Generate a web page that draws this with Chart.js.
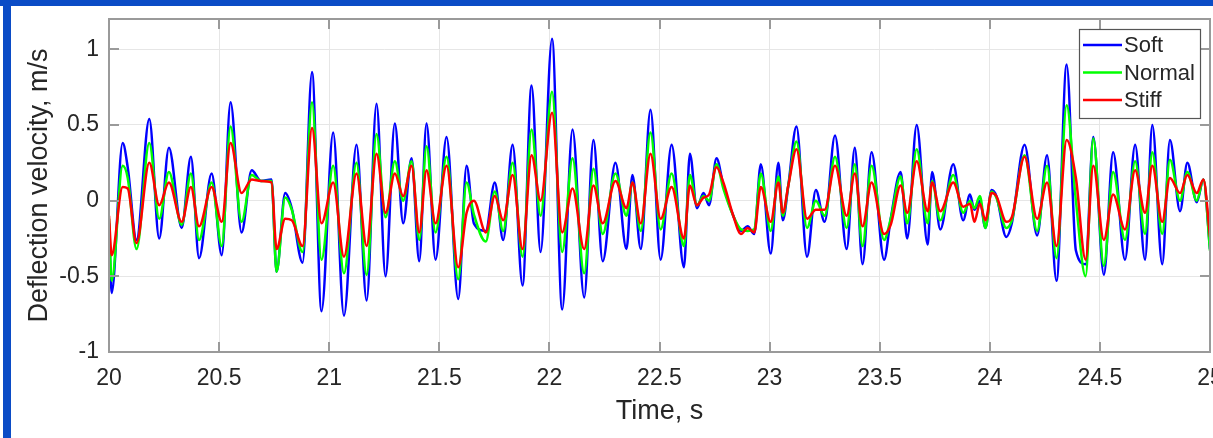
<!DOCTYPE html>
<html>
<head>
<meta charset="utf-8">
<script src="https://cdn.jsdelivr.net/npm/chart.js@4.4.1/dist/chart.umd.min.js"></script>
<style>
  html, body { margin: 0; padding: 0; background: #fff; overflow: hidden; }
  #wrap { position: relative; width: 1213px; height: 438px; }
  #chart { position: absolute; left: 0; top: 0; }
  .band { position: absolute; background: #0b4cc6; }
  #bandTop { left: 0; top: 0; width: 1213px; height: 6px; }
  #bandLeft { left: 3px; top: 0; width: 8px; height: 438px; }
</style>
</head>
<body>
<div id="wrap">
  <canvas id="chart" width="1213" height="438"></canvas>
  <div class="band" id="bandTop"></div>
  <div class="band" id="bandLeft"></div>
</div>
<script>
// ── Data (local peaks / troughs) ──────────────────────────────────
const times = [
  20.000, 20.012, 20.062, 20.085, 20.125, 20.183, 20.228, 20.272, 20.330, 20.372,
  20.409, 20.466, 20.512, 20.552, 20.602, 20.648, 20.690, 20.738, 20.761, 20.800,
  20.830, 20.879, 20.922, 20.965, 21.018, 21.067, 21.124, 21.170, 21.215, 21.256,
  21.298, 21.336, 21.374, 21.409, 21.442, 21.483, 21.533, 21.586, 21.624, 21.657,
  21.711, 21.752, 21.790, 21.833, 21.878, 21.919, 21.960, 22.012, 22.058, 22.105,
  22.158, 22.200, 22.242, 22.300, 22.350, 22.377, 22.415, 22.459, 22.505, 22.555,
  22.611, 22.638, 22.670, 22.700, 22.725, 22.759, 22.790, 22.835, 22.870, 22.900,
  22.930, 22.960, 23.005, 23.040, 23.060, 23.085, 23.122, 23.170, 23.210, 23.250,
  23.297, 23.350, 23.387, 23.422, 23.463, 23.520, 23.550, 23.595, 23.625, 23.668,
  23.718, 23.738, 23.775, 23.834, 23.879, 23.910, 23.930, 23.955, 23.980, 24.008,
  24.030, 24.075, 24.100, 24.158, 24.215, 24.260, 24.303, 24.349, 24.391, 24.435,
  24.470, 24.518, 24.560, 24.614, 24.660, 24.705, 24.738, 24.783, 24.818, 24.864,
  24.897, 24.940, 24.970, 25.000
];

const soft = [
  -0.15, -0.61,  0.38,  0.22, -0.26,  0.54, -0.25,  0.35, -0.18,  0.29,
  -0.38,  0.18, -0.36,  0.65, -0.21,  0.20,  0.13,  0.14, -0.47,  0.05,
  -0.05, -0.41,  0.85, -0.73,  0.45, -0.76,  0.37, -0.66,  0.64, -0.50,
   0.51, -0.15,  0.28, -0.40,  0.51, -0.39,  0.42, -0.65,  0.23, -0.15,
  -0.20,  0.12, -0.26,  0.37, -0.56,  0.76, -0.34,  1.07, -0.72,  0.47,
  -0.64,  0.40, -0.40,  0.25, -0.32,  0.17, -0.32,  0.60, -0.39,  0.37,
  -0.44,  0.31, -0.05,  0.05, -0.03,  0.28,  0.10, -0.10, -0.20, -0.17,
  -0.22,  0.24, -0.35,  0.25, -0.13,  0.10,  0.49, -0.37,  0.07, -0.14,
   0.43, -0.32,  0.35, -0.42,  0.32, -0.39, -0.12,  0.19, -0.25,  0.50,
  -0.29,  0.19, -0.19,  0.24, -0.13,  0.04, -0.06,  0.00, -0.18,  0.07,
   0.03, -0.24, -0.15,  0.37, -0.23,  0.30, -0.53,  0.90, -0.33, -0.42,
   0.42, -0.49,  0.32, -0.39,  0.37, -0.39,  0.50, -0.42,  0.40, -0.07,
   0.25, -0.01,  0.14, -0.32
];

const normal = [
  -0.12, -0.53,  0.23,  0.15, -0.32,  0.38, -0.12,  0.19, -0.16,  0.18,
  -0.26,  0.12, -0.30,  0.49, -0.14,  0.17,  0.13,  0.13, -0.47,  0.02,
  -0.06, -0.34,  0.65, -0.39,  0.23, -0.48,  0.25, -0.49,  0.44, -0.11,
   0.26,  0.00,  0.26, -0.26,  0.36, -0.21,  0.29, -0.52,  0.12, -0.09,
  -0.27,  0.06, -0.20,  0.25, -0.37,  0.47, -0.10,  0.72, -0.34,  0.28,
  -0.48,  0.21, -0.22,  0.18, -0.10,  0.12, -0.20,  0.45, -0.19,  0.18,
  -0.30,  0.17, -0.03,  0.03,  0.00,  0.24,  0.08, -0.10, -0.19, -0.20,
  -0.19,  0.18, -0.20,  0.16, -0.10,  0.10,  0.39, -0.18,  0.00, -0.10,
   0.29, -0.18,  0.24, -0.30,  0.23, -0.26, -0.12,  0.16, -0.15,  0.34,
  -0.15,  0.13, -0.13,  0.17, -0.08,  0.00, -0.05,  0.03, -0.18,  0.06,
   0.02, -0.18, -0.13,  0.30, -0.20,  0.23, -0.38,  0.63,  0.00, -0.50,
   0.41, -0.43,  0.19, -0.26,  0.26, -0.22,  0.32, -0.22,  0.27,  0.00,
   0.19,  0.00,  0.14, -0.33
];

const stiff = [
  -0.10, -0.36,  0.09,  0.08, -0.28,  0.25, -0.03,  0.12, -0.14,  0.09,
  -0.17,  0.09, -0.14,  0.38,  0.05,  0.14,  0.13,  0.12, -0.32, -0.12,
  -0.13, -0.30,  0.48, -0.15,  0.12, -0.37,  0.18, -0.30,  0.31, -0.08,
   0.18,  0.03,  0.23, -0.21,  0.20, -0.15,  0.23, -0.44, -0.08,  0.00,
  -0.21,  0.03, -0.13,  0.17, -0.32,  0.30,  0.00,  0.58, -0.21,  0.08,
  -0.32,  0.10, -0.15,  0.13, -0.05,  0.12, -0.15,  0.31, -0.12,  0.09,
  -0.25,  0.10, -0.03,  0.02,  0.04,  0.22,  0.12, -0.10, -0.22, -0.18,
  -0.21,  0.09, -0.14,  0.12, -0.08,  0.10,  0.34, -0.12, -0.06, -0.06,
   0.23, -0.10,  0.18, -0.17,  0.12, -0.22, -0.16,  0.10, -0.08,  0.26,
  -0.07,  0.12, -0.07,  0.12, -0.04, -0.02, -0.14, -0.02, -0.13,  0.05,
   0.03, -0.14, -0.11,  0.29, -0.12,  0.12, -0.30,  0.40,  0.15, -0.39,
   0.23, -0.26,  0.04, -0.19,  0.20, -0.08,  0.23, -0.14,  0.15,  0.05,
   0.17,  0.05,  0.14, -0.24
];

const xTickValues = [20, 20.5, 21, 21.5, 22, 22.5, 23, 23.5, 24, 24.5, 25];
const yTickValues = [-1, -0.5, 0, 0.5, 1];

const FONT = '"Liberation Sans", Arial, Helvetica, sans-serif';
const AXIS_GRAY = '#9a9a9a';
const TEXT = '#262626';

function points(values) {
  return times.map((t, i) => ({ x: t, y: values[i] }));
}

// ── Box, inward ticks and legend, MATLAB style ────────────────────
const matlabFrame = {
  id: 'matlabFrame',
  afterDatasetsDraw(chart) {
    const { ctx, chartArea: a, scales: { x, y } } = chart;
    ctx.save();
    ctx.strokeStyle = AXIS_GRAY;
    ctx.lineWidth = 2;
    ctx.beginPath();
    xTickValues.forEach(v => {
      const px = Math.round(x.getPixelForValue(v));
      ctx.moveTo(px, a.bottom); ctx.lineTo(px, a.bottom - 10);
      ctx.moveTo(px, a.top);    ctx.lineTo(px, a.top + 10);
    });
    yTickValues.forEach(v => {
      const py = Math.round(y.getPixelForValue(v));
      ctx.moveTo(a.left, py);  ctx.lineTo(a.left + 10, py);
      ctx.moveTo(a.right, py); ctx.lineTo(a.right - 10, py);
    });
    ctx.stroke();
    ctx.strokeRect(a.left, a.top, a.right - a.left, a.bottom - a.top);

    // legend box
    const w = 121, h = 89;
    const lx = a.right - 10 - w, ly = a.top + 10;
    ctx.fillStyle = '#fff';
    ctx.fillRect(lx, ly, w, h);
    ctx.strokeStyle = '#555';
    ctx.lineWidth = 1.2;
    ctx.strokeRect(lx + 0.5, ly + 0.5, w, h);
    ctx.font = '22px ' + FONT;
    ctx.textBaseline = 'middle';
    ctx.textAlign = 'left';
    chart.data.datasets.forEach((ds, i) => {
      const cy = ly + 16 + i * 27.5;
      ctx.strokeStyle = ds.borderColor;
      ctx.lineWidth = 2.5;
      ctx.beginPath();
      ctx.moveTo(lx + 4, cy); ctx.lineTo(lx + 43, cy);
      ctx.stroke();
      ctx.fillStyle = TEXT;
      ctx.fillText(ds.label, lx + 45, cy + 1);
    });
    ctx.restore();
  }
};

new Chart(document.getElementById('chart').getContext('2d'), {
  type: 'line',
  data: {
    datasets: [
      { label: 'Soft',   data: points(soft),   borderColor: '#0000ff', order: 3 },
      { label: 'Normal', data: points(normal), borderColor: '#00ff00', order: 2 },
      { label: 'Stiff',  data: points(stiff),  borderColor: '#ff0000', order: 1 }
    ]
  },
  options: {
    responsive: false,
    devicePixelRatio: 1,
    animation: false,
    layout: { autoPadding: false, padding: { left: 12, top: 19, right: 3, bottom: 0 } },
    elements: {
      line: { borderWidth: 2.5, cubicInterpolationMode: 'monotone', fill: false },
      point: { radius: 0 }
    },
    plugins: { legend: { display: false }, tooltip: { enabled: false } },
    scales: {
      x: {
        type: 'linear', min: 20, max: 25,
        afterBuildTicks: s => { s.ticks = xTickValues.map(v => ({ value: v })); },
        afterFit: s => { s.height = 86; s.paddingLeft = 0; s.paddingRight = 0; },
        grid: { color: '#e6e6e6', lineWidth: 1, drawTicks: false },
        border: { display: false },
        ticks: {
          autoSkip: false, maxRotation: 0, padding: 13, color: TEXT,
          font: { family: FONT, size: 23 },
          callback: v => String(v)
        },
        title: {
          display: true, text: 'Time, s', color: TEXT,
          font: { family: FONT, size: 27 }, padding: { top: 0, bottom: 10 }
        }
      },
      y: {
        type: 'linear', min: -1, max: 1.2,
        afterBuildTicks: s => { s.ticks = yTickValues.map(v => ({ value: v })); },
        afterFit: s => { s.width = 97; s.paddingTop = 0; s.paddingBottom = 0; },
        grid: { color: '#e6e6e6', lineWidth: 1, drawTicks: false },
        border: { display: false },
        ticks: {
          includeBounds: false, padding: 10, color: TEXT,
          font: { family: FONT, size: 23 },
          callback: v => String(v)
        },
        title: {
          display: true, text: 'Deflection velocity, m/s', color: TEXT,
          font: { family: FONT, size: 27 }, padding: { top: 11, bottom: 0 }
        }
      }
    }
  },
  plugins: [matlabFrame]
});
</script>
</body>
</html>
